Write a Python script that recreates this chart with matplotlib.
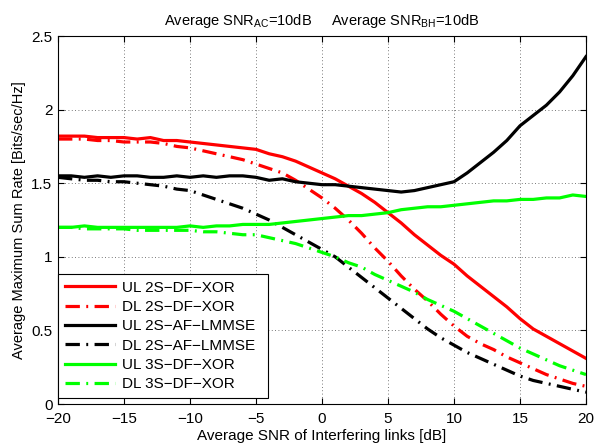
import matplotlib
matplotlib.use('Agg')
import matplotlib.pyplot as plt
import numpy as np

plt.rcParams['font.family'] = ['Liberation Sans', 'DejaVu Sans']
plt.rcParams['mathtext.fontset'] = 'custom'
plt.rcParams['mathtext.rm'] = 'Liberation Sans'
plt.rcParams['mathtext.it'] = 'Liberation Sans'

# x axis: average SNR of interfering links [dB]
snr = list(range(-20, 21))

ul_2s_df = [1.82, 1.82, 1.82, 1.81, 1.81, 1.81, 1.80, 1.81, 1.79, 1.79, 1.78,
            1.77, 1.76, 1.75, 1.74, 1.73, 1.70, 1.68, 1.65, 1.61, 1.57,
            1.53, 1.48, 1.43, 1.37, 1.30, 1.23, 1.15, 1.08, 1.01, 0.95,
            0.87, 0.80, 0.73, 0.66, 0.58, 0.51, 0.46, 0.41, 0.36, 0.31]
dl_2s_df = [1.80, 1.80, 1.80, 1.79, 1.79, 1.78, 1.78, 1.78, 1.77, 1.75, 1.74,
            1.72, 1.70, 1.68, 1.66, 1.63, 1.60, 1.57, 1.52, 1.46, 1.40,
            1.33, 1.25, 1.16, 1.06, 0.97, 0.87, 0.78, 0.70, 0.61, 0.53,
            0.46, 0.41, 0.37, 0.32, 0.28, 0.24, 0.20, 0.17, 0.14, 0.12]
ul_2s_af = [1.55, 1.55, 1.54, 1.55, 1.54, 1.55, 1.55, 1.54, 1.54, 1.55, 1.54,
            1.55, 1.54, 1.55, 1.55, 1.54, 1.52, 1.53, 1.51, 1.50, 1.49,
            1.49, 1.48, 1.47, 1.46, 1.45, 1.44, 1.45, 1.47, 1.49, 1.51,
            1.57, 1.64, 1.71, 1.79, 1.89, 1.96, 2.03, 2.12, 2.23, 2.36]
dl_2s_af = [1.54, 1.53, 1.52, 1.52, 1.51, 1.51, 1.50, 1.49, 1.48, 1.46, 1.45,
            1.42, 1.39, 1.36, 1.33, 1.29, 1.25, 1.20, 1.15, 1.10, 1.05,
            1.00, 0.93, 0.86, 0.79, 0.72, 0.65, 0.58, 0.51, 0.45, 0.40,
            0.35, 0.31, 0.27, 0.23, 0.19, 0.16, 0.14, 0.12, 0.10, 0.08]
ul_3s_df = [1.20, 1.20, 1.21, 1.20, 1.20, 1.20, 1.20, 1.20, 1.20, 1.20, 1.21,
            1.20, 1.21, 1.21, 1.22, 1.22, 1.22, 1.23, 1.24, 1.25, 1.26,
            1.27, 1.28, 1.28, 1.29, 1.30, 1.32, 1.33, 1.34, 1.34, 1.35,
            1.36, 1.37, 1.38, 1.38, 1.39, 1.39, 1.40, 1.40, 1.42, 1.41]
dl_3s_df = [1.20, 1.20, 1.19, 1.19, 1.19, 1.19, 1.18, 1.18, 1.18, 1.18, 1.18,
            1.17, 1.17, 1.16, 1.15, 1.15, 1.13, 1.11, 1.09, 1.06, 1.03,
            1.00, 0.96, 0.93, 0.88, 0.84, 0.80, 0.76, 0.71, 0.67, 0.63,
            0.58, 0.53, 0.48, 0.43, 0.38, 0.34, 0.30, 0.26, 0.23, 0.20]

labels = ['UL 2S\u2212DF\u2212XOR', 'DL 2S\u2212DF\u2212XOR',
          'UL 2S\u2212AF\u2212LMMSE', 'DL 2S\u2212AF\u2212LMMSE',
          'UL 3S\u2212DF\u2212XOR', 'DL 3S\u2212DF\u2212XOR']

red = '#ff0000'
green = '#00ff00'
dashdot = (0, (4.5, 2, 0.6, 2))

fig = plt.figure(figsize=(5.96, 4.48), dpi=100)
ax = fig.add_axes([0.0973, 0.0982, 0.8859, 0.8214])

series = [(ul_2s_df, red, '-'), (dl_2s_df, red, dashdot),
          (ul_2s_af, 'black', '-'), (dl_2s_af, 'black', dashdot),
          (ul_3s_df, green, '-'), (dl_3s_df, green, dashdot)]
for (vals, col, ls), lab in zip(series, labels):
    ax.plot(snr, vals, color=col, linestyle=ls, linewidth=2.3, label=lab)

ax.set_xlim(-20, 20)
ax.set_ylim(0, 2.5)
ax.set_xticks(np.arange(-20, 21, 5))
ax.set_yticks(np.arange(0, 2.51, 0.5))
ax.set_yticklabels(['0', '0.5', '1', '1.5', '2', '2.5'])
ax.grid(True, linestyle=(0, (1, 3)), color='black', linewidth=0.6, alpha=0.7)
ax.tick_params(direction='in', top=True, right=True, labelsize=11, length=4)
ax.tick_params(axis='x', pad=6)
ax.tick_params(axis='y', pad=4)
for s in ax.spines.values():
    s.set_linewidth(0.8)

ax.set_xlabel('Average SNR of Interfering links [dB]', fontsize=11, labelpad=2)
ax.set_ylabel('Average Maximum Sum Rate [Bits/sec/Hz]', fontsize=10.5, labelpad=4)
ax.set_title(r'Average SNR$_{\mathrm{AC}}$=10dB     Average SNR$_{\mathrm{BH}}$=10dB',
             fontsize=10.5, pad=8)

leg = ax.legend(loc='lower left', fontsize=11, fancybox=False, framealpha=1,
                edgecolor='black', borderaxespad=0.0, handlelength=3.3,
                handletextpad=0.45, labelspacing=0.35, borderpad=0.45,
                bbox_to_anchor=(0, 0.016, 0.398, 0.35), mode='expand')
leg.get_frame().set_linewidth(0.8)

fig.savefig('out.png', dpi=100)
